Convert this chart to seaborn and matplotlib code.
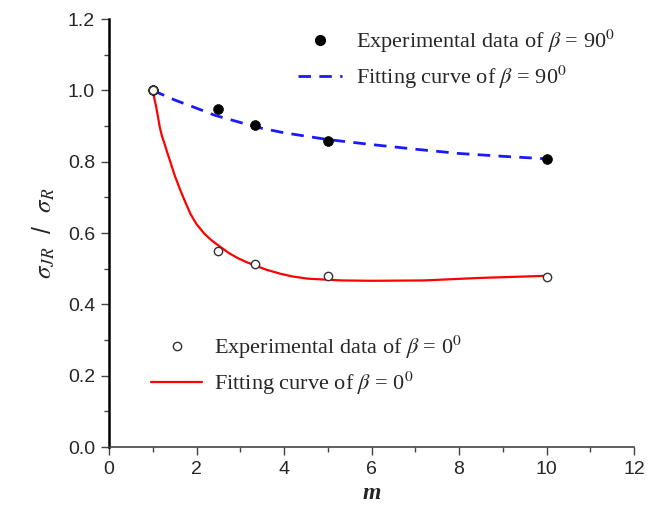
import matplotlib
matplotlib.use("Agg")
import matplotlib.pyplot as plt
import seaborn as sns
import pandas as pd
from matplotlib.lines import Line2D
from matplotlib.ticker import MultipleLocator

# data
m_exp = [1.0, 2.5, 3.33, 5.0, 10.0]
exp_90 = [1.0, 0.949, 0.904, 0.857, 0.808]
exp_0 = [1.0, 0.55, 0.513, 0.48, 0.477]

fit90_m = [1.0, 1.5, 2.0, 2.42, 3.0, 3.36, 4.0, 5.0, 6.0, 7.0, 8.0, 9.0, 10.0]
fit90_y = [1.0, 0.973, 0.95, 0.93, 0.91, 0.897, 0.881, 0.862, 0.848, 0.835, 0.823, 0.815, 0.808]

fit0_m = [1.0, 1.04, 1.08, 1.12, 1.16, 1.21, 1.27, 1.33, 1.39, 1.5, 1.63, 1.75, 1.86, 2.0,
          2.18, 2.33, 2.49, 2.75, 2.97, 3.15, 3.36, 3.6, 3.91, 4.2, 4.54, 5.0, 5.32, 6.0,
          7.2, 8.47, 10.0]
fit0_y = [1.0, 0.975, 0.953, 0.925, 0.897, 0.872, 0.85, 0.826, 0.804, 0.762, 0.72, 0.685,
          0.654, 0.625, 0.598, 0.581, 0.566, 0.543, 0.528, 0.518, 0.508, 0.497, 0.486, 0.478,
          0.472, 0.469, 0.467, 0.466, 0.467, 0.474, 0.48]

xticks = [0, 2, 4, 6, 8, 10, 12]
yticks = [0.0, 0.2, 0.4, 0.6, 0.8, 1.0, 1.2]

lab_exp90 = r'Experimental data of $\beta$ = 90$^0$'
lab_fit90 = r'Fitting curve of $\beta$ = 90$^0$'
lab_exp0 = r'Experimental data of $\beta$ = 0$^0$'
lab_fit0 = r'Fitting curve of $\beta$ = 0$^0$'

sns.set_style("ticks")
plt.rcParams['font.family'] = ['Liberation Sans', 'DejaVu Sans']
plt.rcParams['mathtext.fontset'] = 'stix'

W, H = 656, 507
fig = plt.figure(figsize=(W / 100, H / 100), dpi=100)
ax = fig.add_axes([109 / W, 1 - 447 / H, (634 - 109) / W, (447 - 19) / H])

df90 = pd.DataFrame({'m': fit90_m, 'y': fit90_y})
df0 = pd.DataFrame({'m': fit0_m, 'y': fit0_y})
dexp = pd.DataFrame({'m': m_exp, 'y90': exp_90, 'y0': exp_0})

sns.lineplot(data=df90, x='m', y='y', ax=ax, color='#1a1aff', lw=2.0,
             linestyle=(0, (4.5, 3)), sort=False)
sns.lineplot(data=df0, x='m', y='y', ax=ax, color='#ff0000', lw=1.6, sort=False)
sns.scatterplot(data=dexp, x='m', y='y90', ax=ax, color='black', s=50,
                edgecolor='black', linewidth=0.5, zorder=5)
sns.scatterplot(data=dexp, x='m', y='y0', ax=ax, facecolor='white', s=36,
                edgecolor='#333333', linewidth=1.0, zorder=5)

ax.set_xlim(0, 12)
ax.set_ylim(0, 1.2)
ax.set_xticks(xticks)
ax.set_yticks(yticks)
ax.set_xticklabels([str(t) for t in xticks])
ax.set_yticklabels([f'{t:.1f}' for t in yticks])
ax.xaxis.set_minor_locator(MultipleLocator(1))
ax.yaxis.set_minor_locator(MultipleLocator(0.1))
ax.tick_params(which='major', direction='out', length=6, width=1.0, labelsize=14,
               color='#444444', pad=4)
ax.tick_params(which='minor', direction='out', length=3.5, width=1.0, color='#444444')
for s in ['top', 'right']:
    ax.spines[s].set_visible(False)
ax.spines['left'].set_linewidth(1.8)
ax.spines['left'].set_color('black')
ax.spines['bottom'].set_linewidth(1.2)
ax.spines['bottom'].set_color('#444444')

ax.set_xlabel('m', fontsize=17, fontweight='bold',
              fontstyle='italic', family=['Liberation Serif'], labelpad=4)
ax.set_ylabel(r'$\sigma_{JR}$  /  $\sigma_{R}$', fontsize=18, labelpad=8)

legfont = {'family': 'Liberation Serif', 'size': 16}

h1 = [Line2D([], [], marker='o', color='black', ls='none', markersize=7),
      Line2D([], [], color='#1a1aff', lw=2.0, ls=(0, (4.5, 3)))]
leg1 = ax.legend(h1, [lab_exp90, lab_fit90], loc='upper left', frameon=False,
                 bbox_to_anchor=(298 / W, 1 - 28 / H), bbox_transform=fig.transFigure,
                 prop=legfont, handlelength=2.0, handletextpad=0.6, borderpad=0,
                 borderaxespad=0, labelspacing=0.4)
ax.add_artist(leg1)

h2 = [Line2D([], [], marker='o', markerfacecolor='white', markeredgecolor='#333333',
             ls='none', markersize=6),
      Line2D([], [], color='#ff0000', lw=1.6)]
leg2 = ax.legend(h2, [lab_exp0, lab_fit0], loc='upper left', frameon=False,
                 bbox_to_anchor=(151 / W, 1 - 334 / H), bbox_transform=fig.transFigure,
                 prop=legfont, handlelength=2.3, handletextpad=0.55, borderpad=0,
                 borderaxespad=0, labelspacing=0.4)

fig.savefig('out.png', dpi=100)
